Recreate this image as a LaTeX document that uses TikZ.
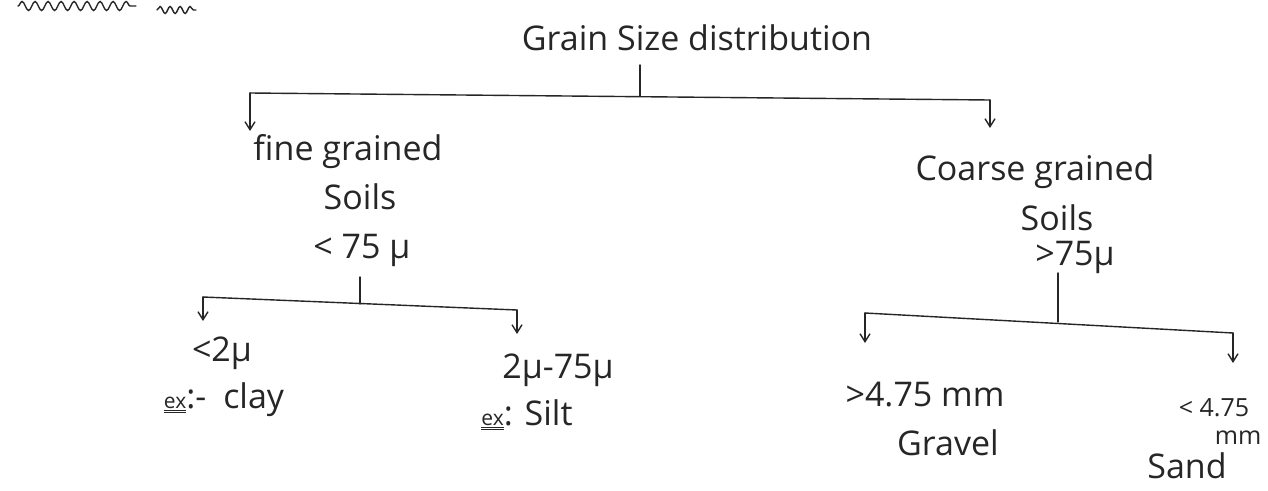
\documentclass[tikz,border=0pt]{standalone}
\usepackage{fontspec}
\setmainfont{Open Sans}
\usepackage{tikz}
\usetikzlibrary{arrows.meta,positioning,decorations.pathmorphing}

\begin{document}
\begin{tikzpicture}[x=1pt,y=-1pt,
  ink/.style={draw=black!85, line width=1.4pt, line cap=round},
  tip/.style={ink, -{Straight Barb[length=8pt,width=10pt]}},
  lbl/.style={font=\fontsize{34}{38}\selectfont, text=black!85, inner sep=0pt},
  small/.style={font=\fontsize{25}{28}\selectfont, text=black!85, inner sep=0pt}]
\useasboundingbox[fill=white] (0,0) rectangle (1268,490);
% wavy underlines left over from the notes above
\draw[ink, decorate, decoration={snake, amplitude=4.5pt, segment length=13pt}] (18,6) -- (136,6);
\draw[ink, decorate, decoration={snake, amplitude=3.5pt, segment length=10pt}] (157,10) -- (196,10);
% top level
\node[lbl] (gsd) at (697,38) {Grain Size distribution};
\node[lbl] (fine) at (348,152) {fine grained};
\node[lbl] (fineSoils) at (360,197) {Soils};
\node[lbl] (fineLt) at (362,250) {< 75 μ};
\node[lbl] (coarse) at (1035,172) {Coarse grained};
\node[lbl] (coarseSoils) at (1057,218) {Soils};
\node[lbl] (coarseGt) at (1075,257) {>75μ};
% fine grained split
\node[lbl] (clayLt) at (222,353) {<2μ};
\node[lbl] (clayEx) at (224,400) {{\fontsize{21}{23}\selectfont\underline{\underline{ex}}}:-\enspace clay};
\node[lbl] (siltLt) at (558,370) {2μ-75μ};
\node[lbl] (siltEx) at (527,415) {{\fontsize{21}{23}\selectfont\underline{\underline{ex}}}: Silt};
% coarse grained split
\node[lbl] (gravelGt) at (925,395) {>4.75 mm};
\node[lbl] (gravel) at (948,443) {Gravel};
\node[small] (sandLt) at (1214,408) {< 4.75};
\node[small] (sandMm) at (1238,438) {mm};
\node[lbl] (sand) at (1187,466) {Sand};
% branch points
\coordinate (t0) at (640,65);   \coordinate (j0) at (640,96);
\coordinate (b0l) at (250,93);  \coordinate (b0r) at (990,100);
\coordinate (a0l) at (250,131); \coordinate (a0r) at (990,128);
\coordinate (t1) at (360,277);  \coordinate (j1) at (360,304);
\coordinate (b1l) at (203,297); \coordinate (b1r) at (517,310);
\coordinate (a1l) at (203,321); \coordinate (a1r) at (517,334);
\coordinate (t2) at (1058,273); \coordinate (j2) at (1058,322);
\coordinate (b2l) at (865,313); \coordinate (b2r) at (1233,333);
\coordinate (a2l) at (865,343); \coordinate (a2r) at (1233,363);
% connectors
\draw[ink] (t0) -- (j0);
\draw[ink] (b0l) -- (b0r);
\draw[tip] (b0l) -- (a0l);
\draw[tip] (b0r) -- (a0r);
\draw[ink] (t1) -- (j1);
\draw[ink] (b1l) -- (b1r);
\draw[tip] (b1l) -- (a1l);
\draw[tip] (b1r) -- (a1r);
\draw[ink] (t2) -- (j2);
\draw[ink] (b2l) -- (b2r);
\draw[tip] (b2l) -- (a2l);
\draw[tip] (b2r) -- (a2r);
\end{tikzpicture}
\end{document}
